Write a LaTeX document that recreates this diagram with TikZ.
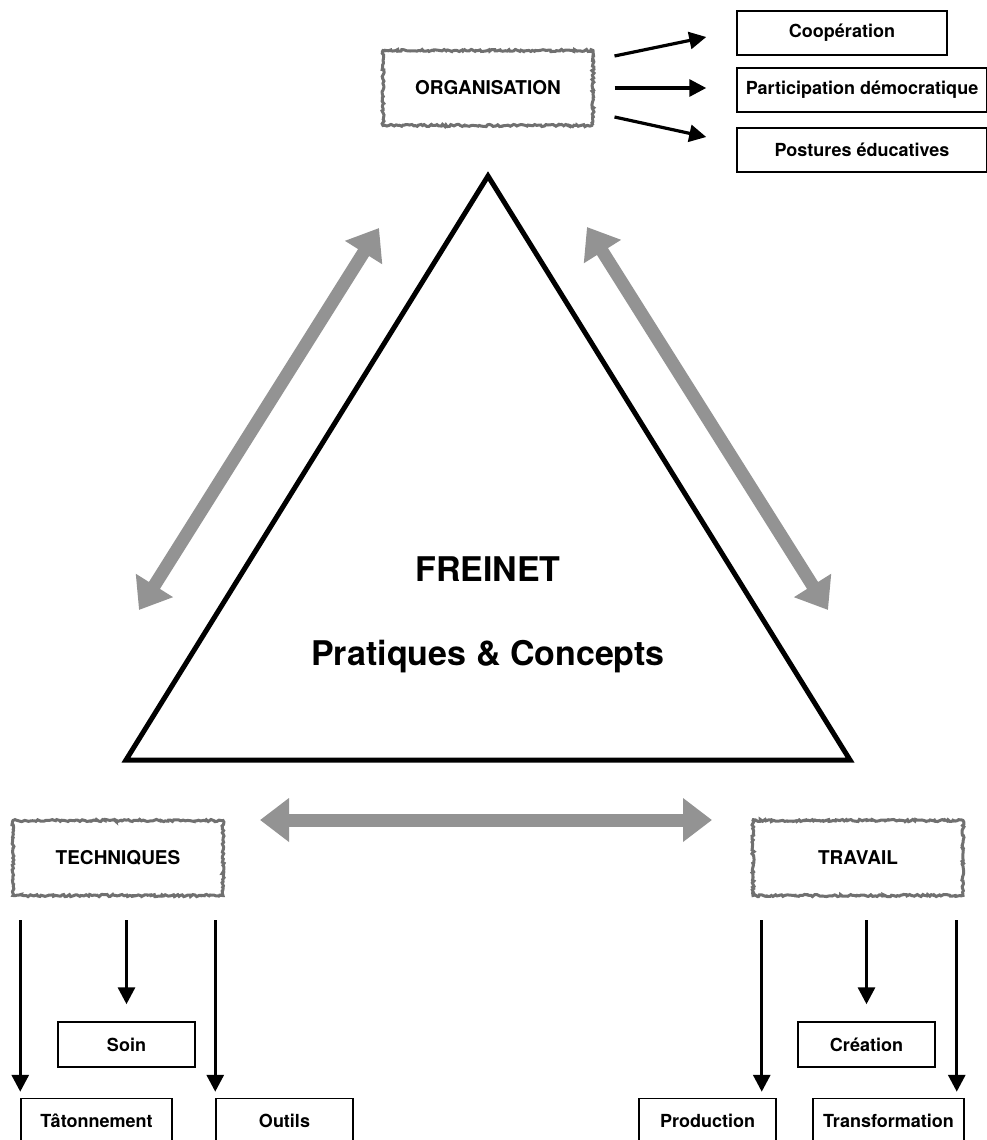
\documentclass[tikz,border=0pt]{standalone}
\usepackage{fontspec}
\setmainfont{TeX Gyre Heros}
\usetikzlibrary{arrows.meta,calc,decorations.pathmorphing}
\definecolor{bordergrey}{HTML}{707070}
\definecolor{arrowgrey}{HTML}{939393}

\tikzset{
    roughbox/.style={draw=bordergrey, line width=3pt, decorate,
        decoration={random steps, segment length=1.8pt, amplitude=1.1pt},
        minimum width=210pt, minimum height=75pt, inner sep=0pt,
        font=\fontsize{19}{22}\selectfont\bfseries},
    subbox/.style={draw=black, line width=1.5pt, minimum height=45pt, inner sep=0pt,
        font=\fontsize{18}{21}\selectfont\bfseries},
    linkarrow/.style={-{Triangle[length=17pt,width=17pt]}, line width=3.2pt, black},
    bigarrow/.style={{Triangle[length=29pt,width=42pt]}-{Triangle[length=29pt,width=42pt]},
        line width=13pt, arrowgrey},
    titletext/.style={font=\fontsize{34}{40}\selectfont\bfseries, anchor=base}
}

\begin{document}
\begin{tikzpicture}[x=1pt, y=-1pt]
    \pgfmathsetseed{7}
    \useasboundingbox (0,0) rectangle (986,1140);

    % Triangle
    \coordinate (apex) at (488,176);
    \coordinate (left) at (126,760);
    \coordinate (right) at (850,760);
    \draw[line width=5pt] (apex) -- (left) -- (right) -- cycle;
    \node[titletext] (freinet) at (488,581) {FREINET};
    \node[titletext] (pratiques) at (488,665) {Pratiques \& Concepts};

    % Three poles
    \node[roughbox] (orga) at (488,88) {ORGANISATION};
    \node[roughbox] (tech) at (118,858) {TECHNIQUES};
    \node[roughbox] (trav) at (858,858) {TRAVAIL};

    % Grey double arrows between the poles
    \coordinate (orgaL) at (379,228);
    \coordinate (techU) at (139,610);
    \coordinate (orgaR) at (587,227);
    \coordinate (travU) at (828,610);
    \coordinate (techR) at (260,820);
    \coordinate (travL) at (712,820);
    \draw[bigarrow] (orgaL) -- (techU);
    \draw[bigarrow] (orgaR) -- (travU);
    \draw[bigarrow] (techR) -- (travL);

    % ORGANISATION branches
    \node[subbox, minimum width=210pt, minimum height=44pt] (coop) at (842,33) {Coopération};
    \node[subbox, minimum width=250pt, minimum height=44pt] (parti) at (862,90) {Participation démocratique};
    \node[subbox, minimum width=250pt, minimum height=44pt] (post) at (862,150) {Postures éducatives};
    \draw[linkarrow] ($(orga.east)+(20,-32)$) -- ($(coop.west)+(-30,4)$);
    \draw[linkarrow] ($(orga.east)+(20,0)$) -- ($(orga.east -| parti.west)+(-30,0)$);
    \draw[linkarrow] ($(orga.east)+(20,29)$) -- ($(post.west)+(-30,-13)$);

    % TECHNIQUES branches
    \node[subbox, minimum width=137pt] (soin) at (126.5,1044.5) {Soin};
    \node[subbox, minimum width=151pt] (taton) at (96.5,1121) {Tâtonnement};
    \node[subbox, minimum width=137pt] (outils) at (284.5,1121) {Outils};
    \draw[linkarrow] ($(tech.south -| taton.west)+(0,23)$) -- ($(taton.north west)+(0,-6)$);
    \draw[linkarrow] ($(tech.south -| soin.north)+(0,23)$) -- ($(soin.north)+(0,-17)$);
    \draw[linkarrow] ($(tech.south -| outils.west)+(0,23)$) -- ($(outils.north west)+(0,-6)$);

    % TRAVAIL branches
    \node[subbox, minimum width=137pt] (creation) at (866.5,1044.5) {Création};
    \node[subbox, minimum width=137pt] (prod) at (707.5,1121) {Production};
    \node[subbox, minimum width=151pt] (transfo) at (888.5,1121) {Transformation};
    \draw[linkarrow] ($(trav.south -| prod.east)+(-15,23)$) -- ($(prod.north east)+(-15,-6)$);
    \draw[linkarrow] ($(trav.south -| creation.north)+(0,23)$) -- ($(creation.north)+(0,-17)$);
    \draw[linkarrow] ($(trav.south -| transfo.east)+(-8,23)$) -- ($(transfo.north east)+(-8,-6)$);
\end{tikzpicture}
\end{document}
